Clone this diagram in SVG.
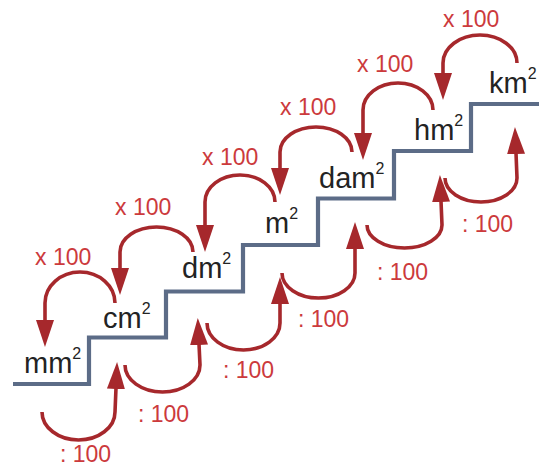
<svg xmlns="http://www.w3.org/2000/svg" width="539" height="469" viewBox="0 0 539 469">
<defs>
<style>
.unit{font-family:"Liberation Sans",Arial,sans-serif;font-size:29px;fill:#232323}
.sup{font-size:16px}
.lbl{font-family:"Liberation Sans",Arial,sans-serif;font-size:23px;fill:#cc3a3c}
.arc{fill:none;stroke:#a6282c;stroke-width:3.6;marker-end:url(#ah)}
.stair{fill:none;stroke:#5c6c87;stroke-width:4.2;stroke-linejoin:miter}
</style>
<marker id="ah" markerUnits="userSpaceOnUse" markerWidth="28" markerHeight="20" refX="1" refY="9" orient="auto" viewBox="0 0 28 18">
<path d="M0,0 L27,9 L0,18 Z" fill="#a6282c"/>
</marker>
</defs>
<rect width="539" height="469" fill="#ffffff"/>
<path class="stair" d="M13,384 H89 V337.5 H166 V291.5 H243 V245 H318 V198.5 H394 V151 H471 V104 H539"/>
<g id="connectors">
<path class="arc" d="M115,303 A35,31 0 0 0 45,303 L45,321"/>
<path class="arc" d="M193,252 A36.5,25 0 0 0 120,252 L120,269"/>
<path class="arc" d="M275,202 A35,27 0 0 0 205,202 L205,226"/>
<path class="arc" d="M352,152 A36,25 0 0 0 280,152 L280,169"/>
<path class="arc" d="M433,110 A35,27 0 0 0 363,110 L363,134"/>
<path class="arc" d="M517,63 A37,28 0 0 0 443,63 L443,74"/>
<path class="arc" d="M42,412 A36.5,28 0 0 0 115,412 L116,388"/>
<path class="arc" d="M125,365 A37.5,27 0 0 0 200,365 L199,344"/>
<path class="arc" d="M207,323 A36.5,27 0 0 0 280,323 L280,303"/>
<path class="arc" d="M282,273 A36.5,25 0 0 0 355,273 L355,248"/>
<path class="arc" d="M367,225 A37.5,23 0 0 0 442,225 L441,201"/>
<path class="arc" d="M445,178 A36,24 0 0 0 517,178 L516,153"/>
<text class="lbl" x="35" y="265">x 100</text>
<text class="lbl" x="115" y="215">x 100</text>
<text class="lbl" x="202" y="165">x 100</text>
<text class="lbl" x="280" y="115">x 100</text>
<text class="lbl" x="357" y="72">x 100</text>
<text class="lbl" x="443" y="27">x 100</text>
<text class="lbl" x="60" y="462">: 100</text>
<text class="lbl" x="138" y="422">: 100</text>
<text class="lbl" x="223" y="378">: 100</text>
<text class="lbl" x="298" y="327">: 100</text>
<text class="lbl" x="377" y="280">: 100</text>
<text class="lbl" x="462" y="232">: 100</text>
</g>
<g id="mm2"><text class="unit" x="24" y="373">mm<tspan class="sup" dy="-14">2</tspan></text></g>
<g id="cm2"><text class="unit" x="103" y="328">cm<tspan class="sup" dy="-14">2</tspan></text></g>
<g id="dm2"><text class="unit" x="182" y="278">dm<tspan class="sup" dy="-14">2</tspan></text></g>
<g id="m2"><text class="unit" x="265" y="233">m<tspan class="sup" dy="-14">2</tspan></text></g>
<g id="dam2"><text class="unit" x="319" y="188">dam<tspan class="sup" dy="-14">2</tspan></text></g>
<g id="hm2"><text class="unit" x="414" y="140">hm<tspan class="sup" dy="-14">2</tspan></text></g>
<g id="km2"><text class="unit" x="489" y="93">km<tspan class="sup" dy="-14">2</tspan></text></g>
</svg>
